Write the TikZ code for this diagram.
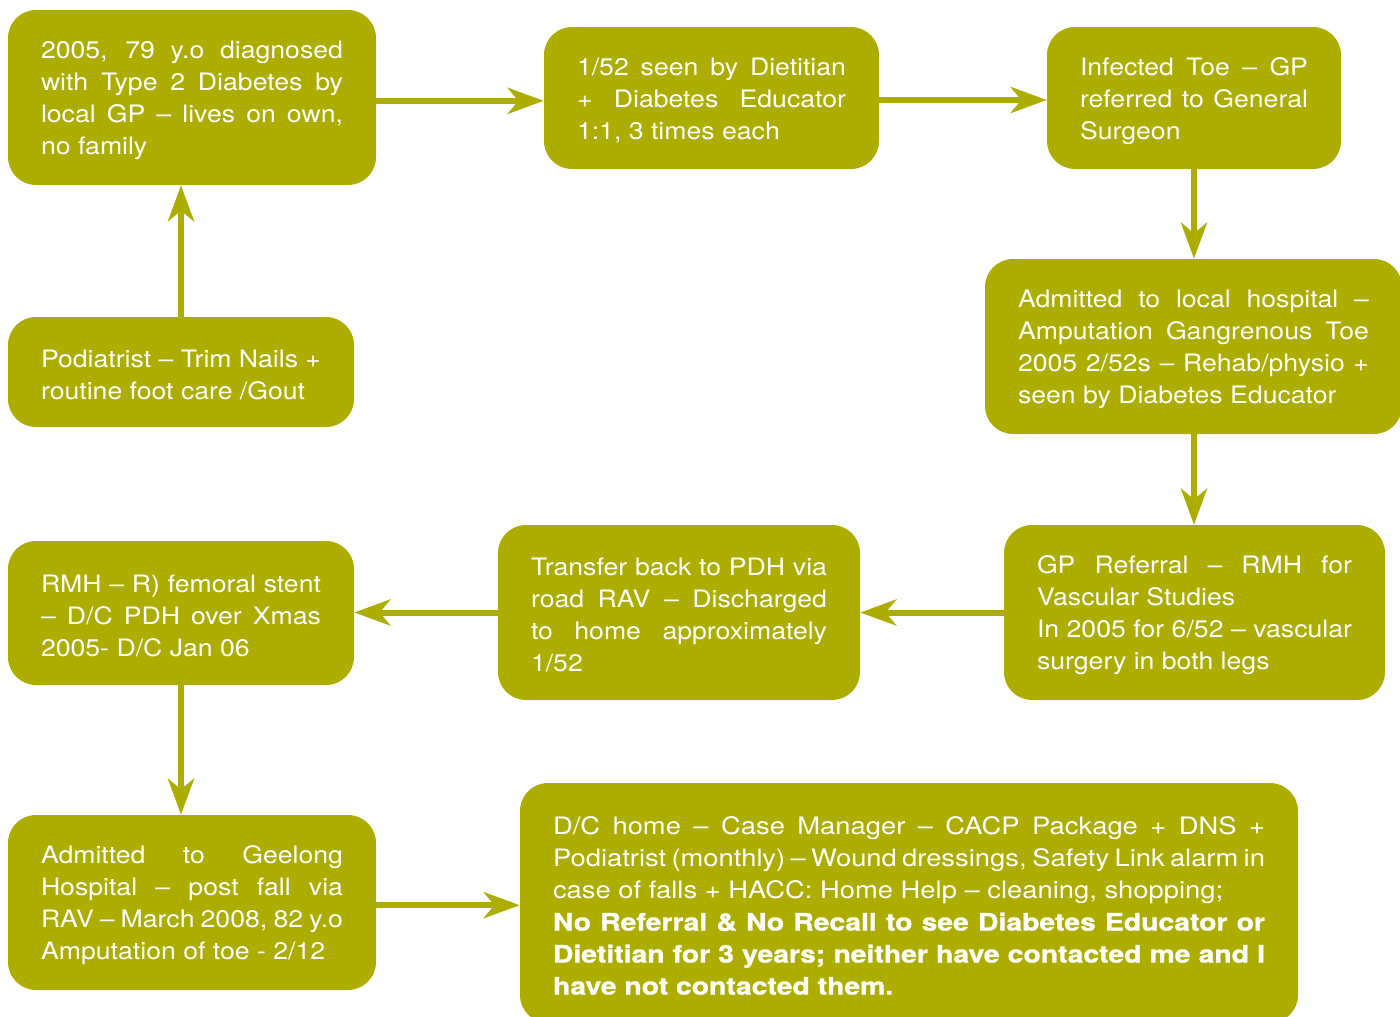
\documentclass[tikz,border=0pt]{standalone}
\usepackage{fontspec}
\setmainfont{TeX Gyre Heros}[FakeStretch=1.11]
\newfontfamily\jreg{TeX Gyre Heros}[FakeStretch=1.14]
\newfontfamily\jbold{TeX Gyre Heros}[FakeStretch=1.18,BoldFeatures={FakeBold=1.2}]
\usetikzlibrary{arrows.meta}
\definecolor{boxolive}{RGB}{173,173,0}
\newcommand\jl[1]{\makebox[\hsize][s]{\spaceskip=0pt\xspaceskip=0pt #1}}
\begin{document}
\begin{tikzpicture}[x=0.75pt,y=-0.75pt,
 box/.style={rectangle, rounded corners=21pt, fill=boxolive, text=white,
   inner xsep=24.75pt, inner ysep=0pt, align=left,
   font=\fontsize{18}{24}\selectfont,
   execute at begin node={\spaceskip=0pt\xspaceskip=0pt\rule{0pt}{17.5pt}}},
 conn/.style={draw=boxolive, line width=4.5pt,
   -{Stealth[length=27pt,width=19.5pt,inset=8pt]}}]
\useasboundingbox (0,0) rectangle (1400,1017);

\node[box, text width=226.5pt, minimum height=131.25pt] (A) at (192,97.5)
 {\jl{2005, 79 y.o diagnosed}\\ \jl{with Type 2 Diabetes by}\\ \jl{local GP – lives on own,}\\ no family};
\node[box, text width=201.75pt, minimum height=106.5pt] (B) at (711.5,98)
 {\jl{1/52 seen by Dietitian}\\ \jl{+ Diabetes Educator}\\ 1:1, 3 times each};
\node[box, text width=171pt, minimum height=106.5pt] (C) at (1194,98)
 {\jl{Infected Toe – GP}\\ \jl{referred to General}\\ Surgeon};
\node[box, text width=263.25pt, minimum height=131.25pt] (D) at (1193.5,346.5)
 {\jl{Admitted to local hospital –}\\ \jl{Amputation Gangrenous Toe}\\ \jl{2005 2/52s – Rehab/physio +}\\ seen by Diabetes Educator};
\node[box, text width=236.25pt, minimum height=131.25pt] (E) at (1194.5,612.5)
 {\jl{GP Referral – RMH for}\\ Vascular Studies\\ \jl{In 2005 for 6/52 – vascular}\\ surgery in both legs};
\node[box, text width=222pt, minimum height=131.25pt] (F) at (679,612.5)
 {\jl{Transfer back to PDH via}\\ \jl{road RAV – Discharged}\\ \jl{to home approximately}\\ 1/52};
\node[box, text width=210pt, minimum height=108pt] (G) at (181,613)
 {\jl{RMH – R) femoral stent}\\ \jl{– D/C PDH over Xmas}\\ 2005- D/C Jan 06};
\node[box, text width=210pt, minimum height=82.5pt] (H) at (181,372)
 {Podiatrist – Trim Nails +\\ routine foot care /Gout};
\node[box, text width=226.5pt, minimum height=131.25pt] (I) at (192,902.5)
 {\jl{Admitted to Geelong}\\ \jl{Hospital – post fall via}\\ \jl{RAV – March 2008, 82 y.o}\\ Amputation of toe - 2/12};
\node[box, text width=534pt, minimum height=180pt,
   execute at begin node={\spaceskip=0pt\xspaceskip=0pt\rule{0pt}{9pt}}] (J) at (909,903)
 {\jreg\jl{\jreg D/C home – Case Manager – CACP Package + DNS +}\\
  \jreg\jl{\jreg Podiatrist (monthly) – Wound dressings, Safety Link alarm in}\\
  \jreg case of falls + HACC: Home Help – cleaning, shopping;\\
  \jbold\bfseries\jl{\jbold\bfseries No Referral \& No Recall to see Diabetes Educator or}\\
  \jbold\bfseries\jl{\jbold\bfseries Dietitian for 3 years; neither have contacted me and I}\\
  \jbold\bfseries have not contacted them.};

\draw[conn] ([yshift=-2.5pt]A.east) -- ([yshift=-2.5pt]A.east -| B.west);
\draw[conn] ([yshift=-1.5pt]B.east) -- ([yshift=-1.5pt]B.east -| C.west);
\draw[conn] (C.south) -- (C.south |- D.north);
\draw[conn] (D.south -| C.south) -- (C.south |- E.north);
\draw[conn] (E.west) -- (E.west -| F.east);
\draw[conn] (F.west) -- (F.west -| G.east);
\draw[conn] (G.south) -- (G.south |- I.north);
\draw[conn] (H.north) -- (H.north |- A.south);
\draw[conn] ([yshift=-2pt]I.east) -- ([yshift=-2pt]I.east -| J.west);
\end{tikzpicture}
\end{document}
